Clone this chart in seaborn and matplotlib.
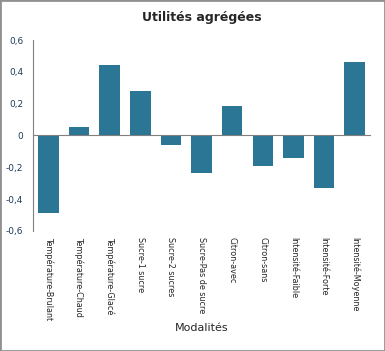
import numpy as np
import pandas as pd
import matplotlib
matplotlib.use("Agg")
import matplotlib.pyplot as plt
import seaborn as sns
from matplotlib.ticker import FuncFormatter, FixedLocator

modalites = ["Température-Brulant", "Température-Chaud", "Température-Glacé",
             "Sucre-1 sucre", "Sucre-2 sucres", "Sucre-Pas de sucre",
             "Citron-avec", "Citron-sans", "Intensité-Faible",
             "Intensité-Forte", "Intensité-Moyenne"]
utilites = [-0.49, 0.055, 0.44, 0.28, -0.058, -0.234, 0.186, -0.19, -0.14, -0.33, 0.462]

df = pd.DataFrame({"modalite": modalites, "utilite": utilites})

sns.set_style("white")
plt.rcParams['font.family'] = ['DejaVu Sans']

fig = plt.figure(figsize=(3.85, 3.51), dpi=100)
ax = fig.add_axes([0.086, 0.342, 0.875, 0.544])

sns.barplot(data=df, x="modalite", y="utilite", color="#2b7595", saturation=1,
            width=0.67, linewidth=0, ax=ax)

grey = "#808080"
ax.set_xlim(-0.5, len(modalites) - 0.5)
ax.set_ylim(-0.6, 0.6)
ax.set_yticks(np.arange(-0.6, 0.61, 0.2))
ax.yaxis.set_major_formatter(FuncFormatter(
    lambda v, p: "0" if abs(v) < 1e-9 else f"{v:.1f}".replace(".", ",")))
ax.tick_params(axis="y", direction="out", length=4, color=grey, width=1,
               labelsize=6.5, labelcolor="#1f3a5a", pad=3)

for s in ["top", "right"]:
    ax.spines[s].set_visible(False)
ax.spines["left"].set_color(grey)
ax.spines["bottom"].set_color(grey)
ax.spines["bottom"].set_position(("data", 0))

ax.xaxis.set_minor_locator(FixedLocator(np.arange(0.5, len(modalites), 1.0)))
ax.tick_params(axis="x", which="minor", direction="inout", length=6, color=grey)
ax.tick_params(axis="x", which="major", length=0, labelsize=5.8, pad=73)
ax.set_xticks(range(len(modalites)))
ax.set_xticklabels(modalites, rotation=-90, va="top", ha="center")

ax.set_xlabel("Modalités", fontsize=8)
ax.xaxis.set_label_coords(0.5, -0.48)
ax.set_ylabel("")
ax.set_title("Utilités agrégées", fontsize=9, fontweight="bold", pad=14)

fig.patches.append(plt.Rectangle((0, 0), 1, 1, transform=fig.transFigure,
                                 fill=False, edgecolor="#909090", linewidth=2))

fig.savefig("out.png", dpi=100)
